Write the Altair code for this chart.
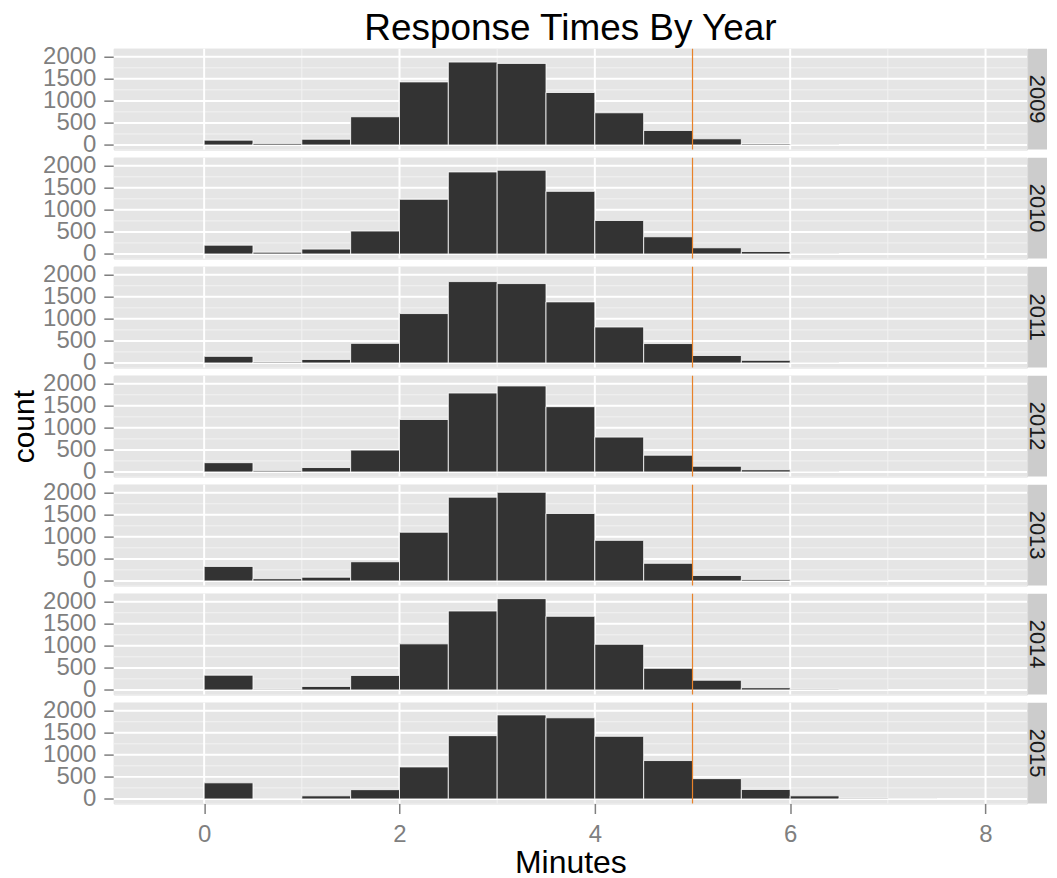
import altair as alt
import pandas as pd

years = ["2009", "2010", "2011", "2012", "2013", "2014", "2015"]
bin_starts = [0.0, 0.5, 1.0, 1.5, 2.0, 2.5, 3.0, 3.5, 4.0, 4.5, 5.0, 5.5, 6.0, 6.5, 7.0]
bin_width = 0.5

counts_2009 = [110, 35, 130, 640, 1430, 1880, 1850, 1190, 730, 330, 140, 25, 3, 0, 2]
counts_2010 = [200, 40, 110, 520, 1240, 1860, 1900, 1420, 760, 390, 140, 55, 3, 0, 2]
counts_2011 = [150, 20, 80, 445, 1120, 1845, 1800, 1385, 815, 440, 170, 60, 3, 1, 1]
counts_2012 = [210, 25, 100, 495, 1190, 1790, 1950, 1480, 790, 380, 130, 50, 2, 0, 1]
counts_2013 = [330, 50, 85, 435, 1105, 1900, 2010, 1530, 920, 400, 125, 35, 5, 2, 1]
counts_2014 = [335, 15, 80, 330, 1045, 1790, 2070, 1670, 1035, 490, 220, 50, 15, 2, 1]
counts_2015 = [365, 5, 70, 210, 725, 1435, 1905, 1840, 1420, 870, 460, 215, 70, 15, 5]
all_counts = [counts_2009, counts_2010, counts_2011, counts_2012,
              counts_2013, counts_2014, counts_2015]

x_major = [0, 2, 4, 6, 8]
x_minor = [1, 3, 5, 7]
y_major = [0, 500, 1000, 1500, 2000]
y_minor = [250, 750, 1250, 1750]
threshold = [5]

title_text = "Response Times By Year"
x_title = "Minutes"
y_title = "count"

FONT = "Liberation Sans"
W = 915
H = 101
x_scale = alt.Scale(domain=[-0.925, 8.425], nice=False, zero=False)
y_scale = alt.Scale(domain=[-104, 2182], nice=False, zero=False)


def make_panel(i, year, counts):
    last = i == len(years) - 1
    middle = i == 3
    if last:
        x_axis = alt.Axis(values=x_major, grid=False, domain=False, tickSize=10,
                          tickColor="#7F7F7F", tickWidth=1.5, labelColor="#7F7F7F",
                          labelFontSize=24, labelFont=FONT, labelPadding=9,
                          labelFlush=False, format="d", title=x_title, titleFontSize=32,
                          titleFont=FONT, titleColor="black", titleFontWeight="normal",
                          titlePadding=1)
    else:
        x_axis = None
    y_axis = alt.Axis(values=y_major, grid=False, domain=False, tickSize=10,
                      tickColor="#7F7F7F", tickWidth=1.5, labelColor="#7F7F7F",
                      labelFontSize=24, labelFont=FONT, labelPadding=8, format="d",
                      labelOverlap=False, title=y_title, titleFontSize=30,
                      titleFont=FONT, titleColor="black", titleFontWeight="normal",
                      titlePadding=3, titleOpacity=1 if middle else 0)

    def X(field):
        return alt.X(field, type="quantitative", scale=x_scale, axis=x_axis)

    def Y(field):
        return alt.Y(field, type="quantitative", scale=y_scale, axis=y_axis)

    df = pd.DataFrame({"start": bin_starts,
                       "end": [b + bin_width for b in bin_starts],
                       "count": counts})
    strip_df = pd.DataFrame({"year": [year]})

    panel_bg = alt.Chart(strip_df).mark_rect(fill="#E5E5E5").encode(
        x=alt.value(0), x2=alt.value(W), y=alt.value(0), y2=alt.value(H))
    minor_y = alt.Chart(pd.DataFrame({"v": y_minor})).mark_rule(
        color="#F2F2F2", strokeWidth=1).encode(y=Y("v"))
    minor_x = alt.Chart(pd.DataFrame({"v": x_minor})).mark_rule(
        color="#F2F2F2", strokeWidth=1).encode(x=X("v"))
    major_y = alt.Chart(pd.DataFrame({"v": y_major})).mark_rule(
        color="white", strokeWidth=2).encode(y=Y("v"))
    major_x = alt.Chart(pd.DataFrame({"v": x_major})).mark_rule(
        color="white", strokeWidth=2).encode(x=X("v"))
    bars = alt.Chart(df).mark_bar(color="#333333", stroke="white", strokeWidth=0.8).encode(
        x=X("start"), x2="end", y=Y("count"), y2=alt.datum(0))
    vline = alt.Chart(pd.DataFrame({"v": threshold})).mark_rule(
        color="#E8822A", strokeWidth=1.2).encode(x=X("v"))
    strip = alt.Chart(strip_df).mark_rect(fill="#CCCCCC").encode(
        x=alt.value(W + 1), x2=alt.value(W + 20), y=alt.value(0), y2=alt.value(H))
    strip_text = alt.Chart(strip_df).mark_text(
        angle=90, fontSize=22, font=FONT, color="#1A1A1A", align="center",
        baseline="middle").encode(
        x=alt.value(W + 10), y=alt.value(H / 2), text="year:N")

    layer = alt.layer(panel_bg, minor_y, minor_x, major_y, major_x, bars, vline,
                      strip, strip_text).properties(width=W, height=H)
    if i == 0:
        layer = layer.properties(title=alt.Title(
            title_text, fontSize=37, font=FONT, color="black", fontWeight="normal",
            anchor="middle", frame="group", offset=-3))
    return layer


panels = [make_panel(i, y, c) for i, (y, c) in enumerate(zip(years, all_counts))]

chart = alt.vconcat(*panels, spacing=8.2, bounds="flush").properties(
    padding={"left": 1, "top": 0, "right": 0, "bottom": 0}
).configure_view(stroke="transparent").configure(font=FONT)

chart.save("out.html", embed_options={"renderer": "svg", "actions": False})
